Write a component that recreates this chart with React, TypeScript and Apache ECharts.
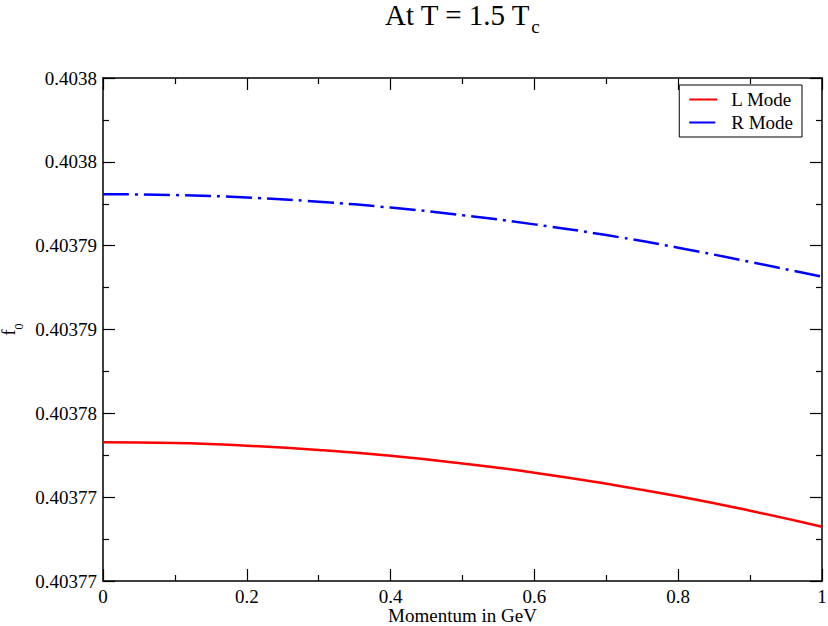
import React, { useEffect, useRef } from "react";
import * as echarts from "echarts";

const momentum = [0, 0.1, 0.2, 0.3, 0.4, 0.5, 0.6, 0.7, 0.8, 0.9, 1.0];
const lMode = [
  0.40377827, 0.40377823, 0.40377807, 0.40377782, 0.40377747, 0.40377701,
  0.40377646, 0.4037758, 0.40377505, 0.40377419, 0.40377324,
];
const rMode = [
  0.40379307, 0.40379302, 0.40379287, 0.40379262, 0.40379227, 0.40379182,
  0.40379127, 0.40379063, 0.40378988, 0.40378903, 0.40378815,
];
const yTickLabels = ["0.40377", "0.40377", "0.40378", "0.40379", "0.40379", "0.4038", "0.4038"];
const yMin = 0.40377;
const yMax = 0.4038;
const yStep = 0.000005;

const FONT = "Liberation Serif";

export default function App() {
  const ref = useRef<HTMLDivElement>(null);
  useEffect(() => {
    document.body.style.margin = "0";
    document.body.style.overflow = "hidden";
    const chart = echarts.init(ref.current!, null, { renderer: "svg" });
    const tickCommon = {
      axisLine: { show: true, onZero: false, lineStyle: { color: "#000", width: 1.5 } },
      axisTick: { show: true, inside: true, length: 12, lineStyle: { color: "#000", width: 1.2 } },
      minorTick: { show: true, splitNumber: 2, length: 6, lineStyle: { color: "#000", width: 1.2 } },
      splitLine: { show: false },
      minorSplitLine: { show: false },
    };
    chart.setOption({
      animation: false,
      backgroundColor: "#fff",
      textStyle: { fontFamily: FONT },
      title: {
        text: "{a|At T = 1.5 T}{b|c}",
        left: 462,
        textAlign: "center",
        top: 0,
        padding: 0,
        textStyle: {
          fontWeight: "normal",
          rich: {
            a: { fontFamily: FONT, fontSize: 29, fontWeight: "normal", color: "#000", lineHeight: 21, verticalAlign: "top" },
            b: { fontFamily: FONT, fontSize: 19, fontWeight: "normal", color: "#000", padding: [17, 0, 0, 1], verticalAlign: "bottom" },
          },
        },
      },
      legend: {
        orient: "vertical",
        right: 26,
        top: 85,
        padding: [5, 9, 5, 9],
        itemWidth: 28,
        itemHeight: 14,
        itemGap: 4,
        borderColor: "#000",
        borderWidth: 1,
        borderRadius: 0,
        backgroundColor: "#fff",
        itemStyle: { opacity: 0 },
        textStyle: { fontFamily: FONT, fontSize: 19, lineHeight: 18, color: "#000", padding: [0, 0, 0, 9] },
        data: ["L Mode", "R Mode"],
      },
      grid: { left: 103, right: 6, top: 78, bottom: 45, containLabel: false, outerBoundsMode: "none" },
      xAxis: [
        {
          type: "value",
          min: 0,
          max: 1,
          interval: 0.2,
          position: "bottom",
          name: "Momentum in GeV",
          nameLocation: "middle",
          nameGap: 25,
          nameMoveOverlap: false,
          nameTextStyle: { fontFamily: FONT, fontSize: 19, color: "#000" },
          axisLabel: { fontFamily: FONT, fontSize: 19, color: "#000", margin: 6 },
          ...tickCommon,
        },
        {
          type: "value",
          min: 0,
          max: 1,
          interval: 0.2,
          position: "top",
          axisLabel: { show: false },
          ...tickCommon,
        },
      ],
      yAxis: [
        {
          type: "value",
          min: yMin,
          max: yMax,
          interval: yStep,
          position: "left",
          name: "{a|f}{b|0}",
          nameLocation: "middle",
          nameGap: 78,
          nameMoveOverlap: false,
          nameRotate: 90,
          nameTextStyle: {
            rich: {
              a: { fontFamily: FONT, fontSize: 18, color: "#000", lineHeight: 17, verticalAlign: "top" },
              b: { fontFamily: FONT, fontSize: 12, color: "#000", padding: [13, 0, 0, 0], verticalAlign: "bottom" },
            },
          },
          axisLabel: {
            fontFamily: FONT,
            fontSize: 19,
            color: "#000",
            margin: 6,
            formatter: (v: number) => {
              const i = Math.round((v - yMin) / yStep);
              return yTickLabels[i] ?? "";
            },
          },
          ...tickCommon,
        },
        {
          type: "value",
          min: yMin,
          max: yMax,
          interval: yStep,
          position: "right",
          axisLabel: { show: false },
          ...tickCommon,
        },
      ],
      series: [
        {
          name: "L Mode",
          type: "line",
          xAxisIndex: 0,
          yAxisIndex: 0,
          data: momentum.map((x, i) => [x, lMode[i]]),
          smooth: true,
          symbol: "none",
          showSymbol: false,
          color: "#ff0000",
          lineStyle: { color: "#ff0000", width: 2.5, type: "solid" },
        },
        {
          name: "R Mode",
          type: "line",
          xAxisIndex: 0,
          yAxisIndex: 0,
          data: momentum.map((x, i) => [x, rMode[i]]),
          smooth: true,
          symbol: "none",
          showSymbol: false,
          color: "#0000ff",
          lineStyle: { color: "#0000ff", width: 2.5, type: [26, 6, 3, 6], cap: "butt" },
        },
      ],
    });
    return () => chart.dispose();
  }, []);
  return <div ref={ref} style={{ width: 828, height: 626 }} />;
}
